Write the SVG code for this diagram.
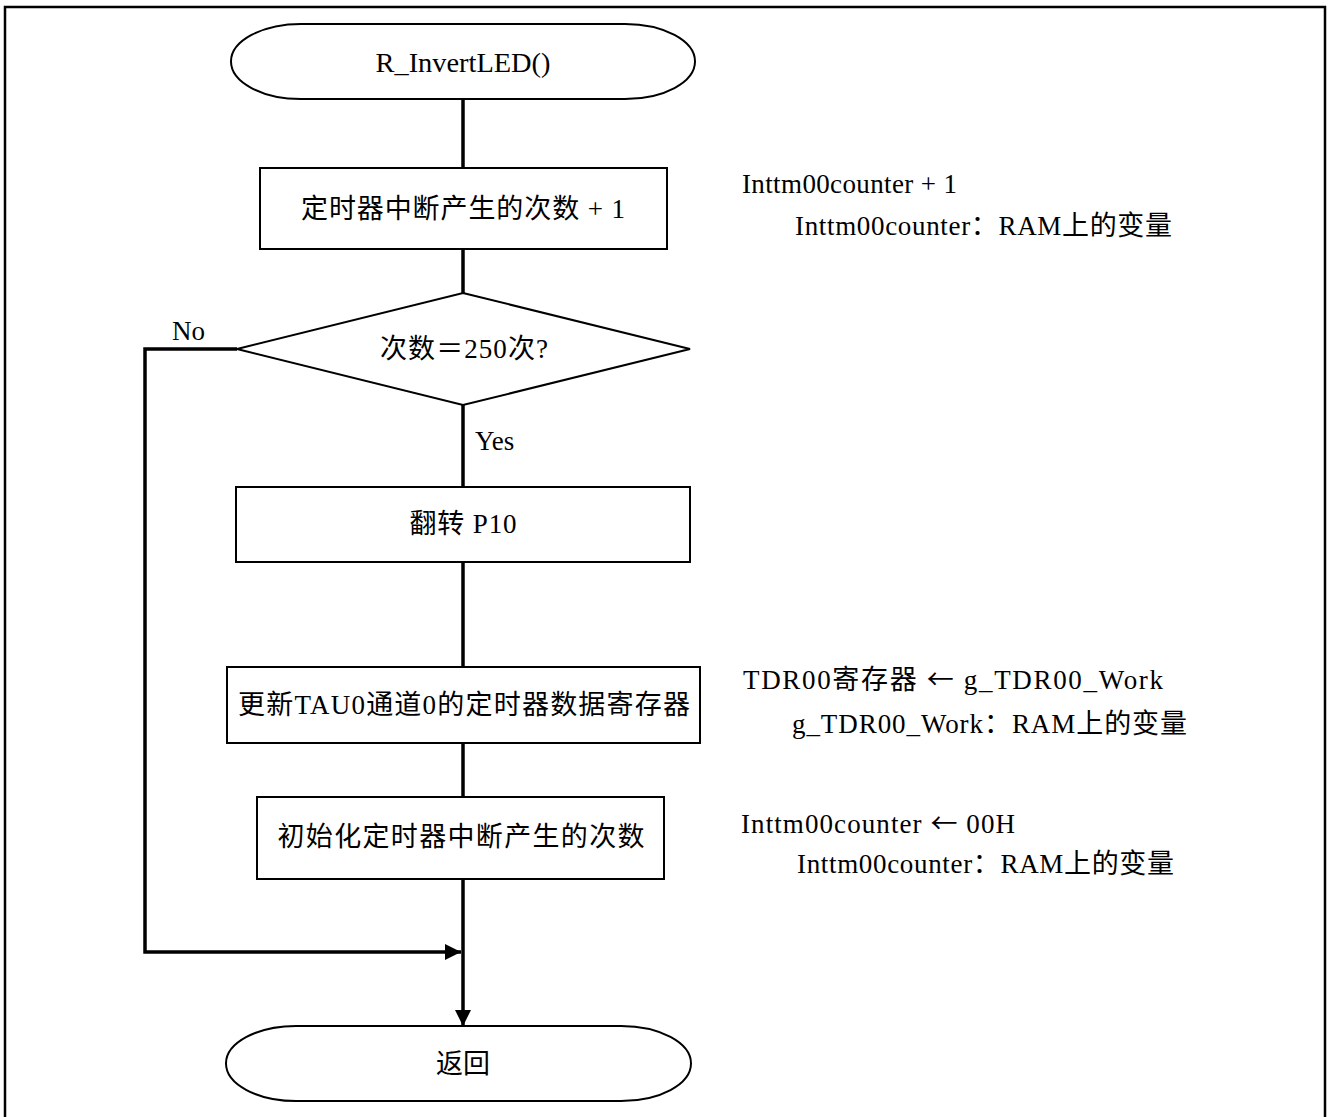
<svg xmlns="http://www.w3.org/2000/svg" width="1330" height="1117" viewBox="0 0 1330 1117">
  <style>
    .shape { fill: #ffffff; stroke: #000000; stroke-width: 2; }
    .flow { fill: none; stroke: #000000; stroke-width: 3.5; }
    .frame { fill: none; stroke: #000000; stroke-width: 2.5; }
    text { font-family: "Liberation Serif", "Noto Sans CJK SC", serif; font-size: 27px; fill: #000000; }
    .c { text-anchor: middle; }
    .arr { font-family: "Noto Sans CJK SC", sans-serif; }
  </style>
  <defs>
    <marker id="arrow" viewBox="0 0 16 16" refX="16" refY="8" markerWidth="16" markerHeight="16" markerUnits="userSpaceOnUse" orient="auto">
      <path d="M0,0 L16,8 L0,16 Z" fill="#000000"/>
    </marker>
  </defs>

  <!-- page frame, open at the bottom -->
  <path class="frame" d="M5,1117 V7 H1325 V1117"/>

  <!-- connectors -->
  <g id="connectors">
    <line class="flow" x1="463" y1="99" x2="463" y2="168"/>
    <line class="flow" x1="463" y1="249" x2="463" y2="293"/>
    <line class="flow" x1="463" y1="405" x2="463" y2="487"/>
    <line class="flow" x1="463" y1="562" x2="463" y2="667"/>
    <line class="flow" x1="463" y1="743" x2="463" y2="797"/>
    <line class="flow" x1="463" y1="879" x2="463" y2="1026" marker-end="url(#arrow)"/>
    <polyline class="flow" points="237,349 145,349 145,952 461,952" marker-end="url(#arrow)"/>
    <text x="172" y="340">No</text>
    <text x="475" y="450">Yes</text>
  </g>

  <g id="start">
    <rect class="shape" x="231" y="24" width="464" height="75" rx="70" ry="37.5"/>
    <text class="c" x="463" y="72" textLength="175" lengthAdjust="spacingAndGlyphs">R_InvertLED()</text>
  </g>

  <g id="count-up">
    <rect class="shape" x="260" y="168" width="407" height="81"/>
    <text class="c" x="463" y="218" textLength="324" lengthAdjust="spacing">定时器中断产生的次数 + 1</text>
  </g>

  <g id="check-count">
    <polygon class="shape" points="463,293 690,349 463,405 237,349"/>
    <text class="c" x="464" y="358" textLength="168" lengthAdjust="spacing">次数＝250次?</text>
  </g>

  <g id="toggle-p10">
    <rect class="shape" x="236" y="487" width="454" height="75"/>
    <text class="c" x="463" y="533" textLength="107" lengthAdjust="spacing">翻转 P10</text>
  </g>

  <g id="update-tdr">
    <rect class="shape" x="227" y="667" width="473" height="76"/>
    <text class="c" x="464" y="714" textLength="452" lengthAdjust="spacing">更新TAU0通道0的定时器数据寄存器</text>
  </g>

  <g id="reset-count">
    <rect class="shape" x="257" y="797" width="407" height="82"/>
    <text class="c" x="461" y="846" textLength="367" lengthAdjust="spacing">初始化定时器中断产生的次数</text>
  </g>

  <g id="end">
    <rect class="shape" x="226" y="1026" width="465" height="75" rx="70" ry="37.5"/>
    <text class="c" x="463" y="1073" textLength="54" lengthAdjust="spacing">返回</text>
  </g>

  <!-- notes -->
  <g id="note-count-up">
    <text x="742" y="193" textLength="215" lengthAdjust="spacing">Inttm00counter + 1</text>
    <text x="795" y="235" textLength="377" lengthAdjust="spacing">Inttm00counter：RAM上的变量</text>
  </g>
  <g id="note-update-tdr">
    <text x="743" y="689" textLength="420" lengthAdjust="spacing">TDR00寄存器 <tspan class="arr">←</tspan>  g_TDR00_Work</text>
    <text x="792" y="733" textLength="395" lengthAdjust="spacing">g_TDR00_Work：RAM上的变量</text>
  </g>
  <g id="note-reset-count">
    <text x="741" y="833" textLength="274" lengthAdjust="spacing">Inttm00counter <tspan class="arr">←</tspan>  00H</text>
    <text x="797" y="873" textLength="377" lengthAdjust="spacing">Inttm00counter：RAM上的变量</text>
  </g>
</svg>
